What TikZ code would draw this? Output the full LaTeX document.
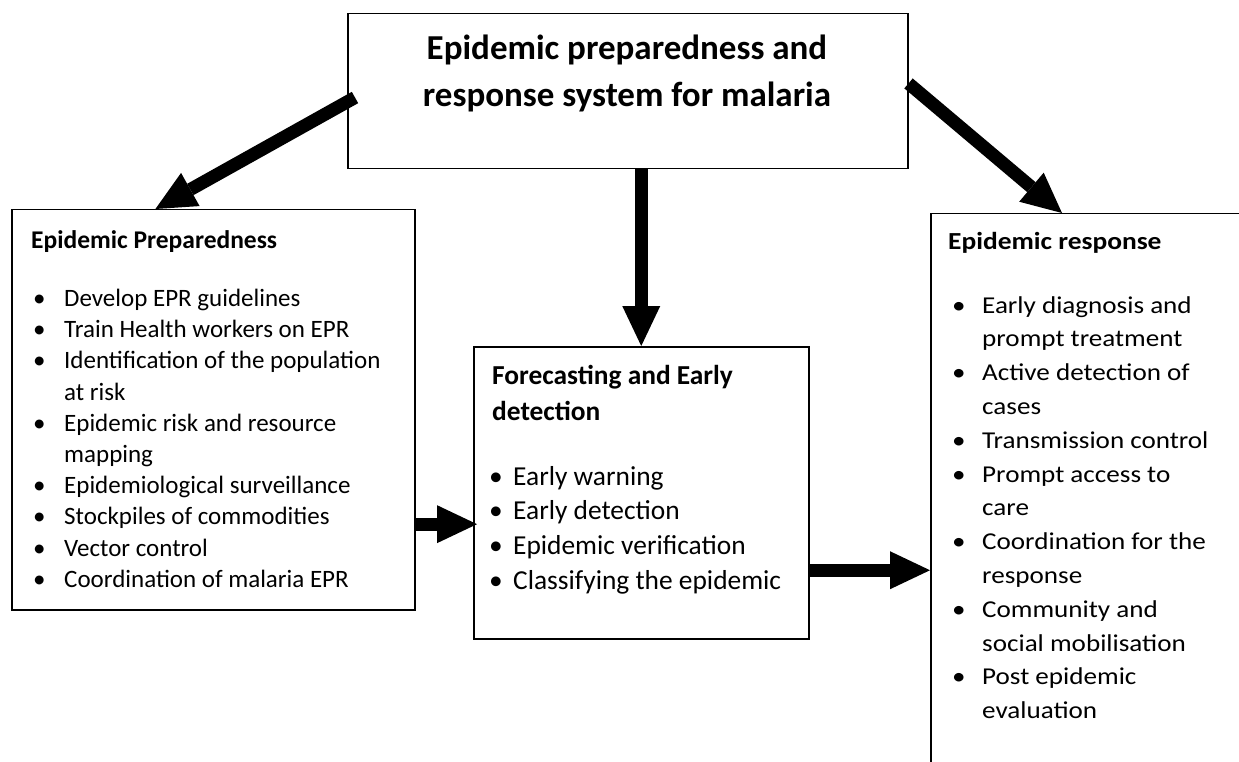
\documentclass[tikz,border=0pt]{standalone}
\usepackage{fontspec}
\setmainfont{Carlito}
\newfontfamily\widefont[FakeStretch=1.12]{Carlito}
\usetikzlibrary{arrows.meta,calc}
\newcommand{\lbul}{\makebox[31pt][l]{\textbullet}}
\newcommand{\lind}{\hspace*{31pt}}
\newcommand{\mbul}{\makebox[24pt][l]{\textbullet}}
\newcommand{\rbul}{\makebox[30pt][l]{\textbullet}}
\newcommand{\rind}{\hspace*{30pt}}
\begin{document}
\begin{tikzpicture}[x=1pt,y=-1pt,
  box/.style={draw, line width=1.5pt, inner sep=0pt, rectangle, anchor=north west},
  fat/.style={line width=13pt, -{Triangle[width=38pt,length=40pt,line width=0pt]}},
  txt/.style={inner sep=0pt, align=left, anchor=north west}]
\useasboundingbox (0,0) rectangle (1239,762);
\clip (0,0) rectangle (1239,762);
% boxes
\node[box, minimum width=560pt, minimum height=155pt] (top) at (347,13) {};
\node[box, minimum width=403pt, minimum height=400pt] (lbox) at (11,209) {};
\node[box, minimum width=335pt, minimum height=292pt] (mid) at (473,346) {};
\node[box, minimum width=400pt, minimum height=700pt] (rbox) at (930,213) {};
% texts
\node[inner sep=0pt, align=center, anchor=north, font=\bfseries\fontsize{35}{47}\selectfont] (toptxt) at (627,34.5)
  {Epidemic preparedness and\\response system for malaria};
\node[txt, font=\bfseries\fontsize{25.5}{31}\selectfont] (ltitle) at (31,230.5) {Epidemic Preparedness};
\node[txt, font=\fontsize{25}{31.2}\selectfont] (llist) at (33,289) {%
  \lbul Develop EPR guidelines\\
  \lbul Train Health workers on EPR\\
  \lbul Identification of the population\\
  \lind at risk\\
  \lbul Epidemic risk and resource\\
  \lind mapping\\
  \lbul Epidemiological surveillance\\
  \lbul Stockpiles of commodities\\
  \lbul Vector control\\
  \lbul Coordination of malaria EPR};
\node[txt, font=\bfseries\fontsize{27.4}{36}\selectfont] (mtitle) at (492,365) {Forecasting and Early\\detection};
\node[txt, font=\fontsize{27.4}{34.7}\selectfont] (mlist) at (489,466) {%
  \mbul Early warning\\
  \mbul Early detection\\
  \mbul Epidemic verification\\
  \mbul Classifying the epidemic};
\node[txt, font=\widefont\bfseries\fontsize{24.5}{31}\selectfont] (rtitle) at (948,232) {Epidemic response};
\node[txt, font=\widefont\fontsize{24.2}{33.8}\selectfont] (rlist) at (952,296) {%
  \rbul Early diagnosis and\\
  \rind prompt treatment\\
  \rbul Active detection of\\
  \rind cases\\
  \rbul Transmission control\\
  \rbul Prompt access to\\
  \rind care\\
  \rbul Coordination for the\\
  \rind response\\
  \rbul Community and\\
  \rind social mobilisation\\
  \rbul Post epidemic\\
  \rind evaluation};
% connectors
\coordinate (a1s) at ([xshift=8pt]$(top.north west)!0.54!(top.south west)$);
\coordinate (a1e) at ($(lbox.north west)!0.357!(lbox.north east)$);
\coordinate (a3s) at ($(top.north east)!0.45!(top.south east)$);
\coordinate (a3e) at ([xshift=132pt]rbox.north west);
\coordinate (a4s) at ($(lbox.north east)!0.785!(lbox.south east)$);
\coordinate (a5s) at ($(mid.north east)!0.764!(mid.south east)$);
\draw[fat] (a1s) -- (a1e);
\draw[fat] (a3s) -- (a3e);
\draw[fat] (mid.north |- top.south) -- (mid.north);
\draw[fat] (a4s) -- ([xshift=4pt]mid.west |- a4s);
\draw[fat] (a5s) -- (rbox.west |- a5s);
\end{tikzpicture}
\end{document}
